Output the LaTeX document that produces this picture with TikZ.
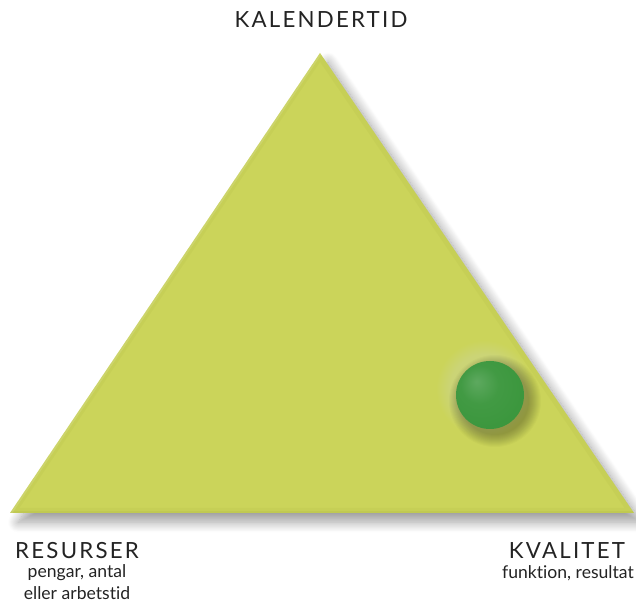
\documentclass[tikz,border=0pt]{standalone}
\usepackage{fontspec}
\setmainfont[Ligatures=NoCommon]{Lato}
\newfontfamily\capsfont[LetterSpace=10, Ligatures=NoCommon]{Lato}
\usetikzlibrary{shadows.blur}
\definecolor{limegreen}{RGB}{203, 212, 90}
\definecolor{limedark}{RGB}{168, 178, 60}
\definecolor{peagreen}{RGB}{58, 150, 60}
\definecolor{textgray}{RGB}{35, 35, 35}
\pgfdeclareradialshading{pea}{\pgfpoint{-10bp}{10bp}}{%
  color(0bp)=(peagreen!82!white);
  color(14bp)=(peagreen!96!white);
  color(34bp)=(peagreen);
  color(48bp)=(peagreen!78!black);
  color(60bp)=(peagreen!72!black)}

\tikzset{
  corner/.style={font=\capsfont\fontsize{19}{22}\selectfont, text=textgray, inner sep=0pt},
  note/.style={font=\fontsize{15}{17}\selectfont, text=textgray, inner sep=0pt}
}

\begin{document}
\begin{tikzpicture}[x=0.3mm, y=-0.3mm]
  % ramen i pixelmått
  \useasboundingbox (0, 0) rectangle (636, 604);

  % triangeln med mjuk skugga nedåt höger
  \fill[limegreen, blur shadow={shadow xshift=2.4mm, shadow yshift=-2.8mm,
      shadow blur radius=3mm, shadow opacity=38, shadow blur steps=14}]
    (320, 53) -- (634, 513) -- (10, 513) -- cycle;

  % svag fasning längs kanterna
  \begin{scope}
    \clip (320, 53) -- (634, 513) -- (10, 513) -- cycle;
    \draw[limedark, line width=3mm, opacity=0.12] (320, 53) -- (634, 513) -- (10, 513) -- cycle;
    \draw[limedark, line width=1.4mm, opacity=0.18] (634, 513) -- (10, 513);
    \draw[white, line width=1.2mm, opacity=0.12] (10, 513) -- (320, 53);
  \end{scope}

  % punkten nära kvalitetshörnet, med ljus gloria och mjuk skugga
  \foreach \r in {35, 36, ..., 48}
    \fill[white, opacity=0.016] (485, 389) circle (\r);
  \foreach \r in {34, 35, ..., 46}
    \fill[black, opacity=0.022] (495, 401) circle (\r);
  \shade[shading=pea] (490, 395) circle (34);

  % hörnens rubriker
  \node[corner] (kalender) at (321, 20) {KALENDERTID};
  \node[corner] (resurser) at (77, 551) {RESURSER};
  \node[note] (pengar) at (77, 573) {pengar, antal};
  \node[note] (arbetstid) at (77, 593) {eller arbetstid};
  \node[corner] (kvalitet) at (567, 551) {KVALITET};
  \node[note, anchor=east] (funktion) at (634, 573) {funktion, resultat};
\end{tikzpicture}
\end{document}
